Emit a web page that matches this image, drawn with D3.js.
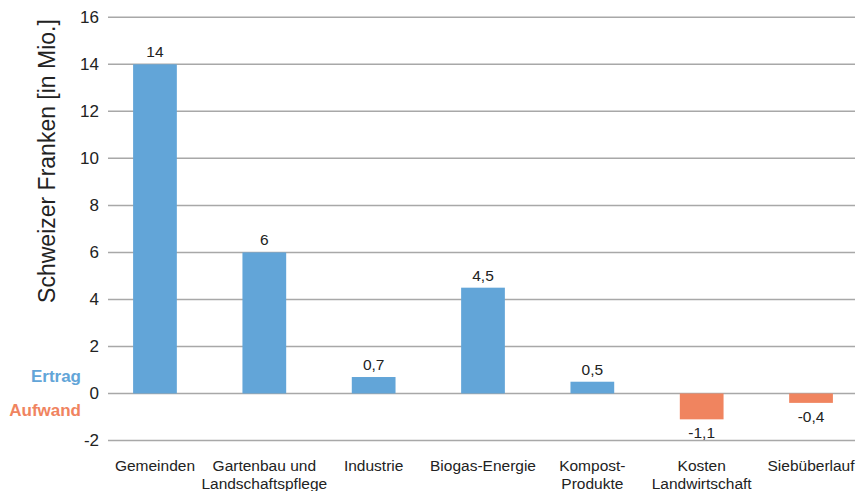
<!DOCTYPE html>
<html>
<meta charset="utf-8">
<style>
  body { margin: 0; background: #fff; }
  text { font-family: "Liberation Sans", Arial, sans-serif; fill: #222; }
  .grid line { stroke: #a8a8a8; stroke-width: 1.5; }
</style>
<body>
<script src="https://cdn.jsdelivr.net/npm/d3@7"></script>
<script>
// data
var categories = [["Gemeinden"], ["Gartenbau und", "Landschaftspflege"], ["Industrie"],
  ["Biogas-Energie"], ["Kompost-", "Produkte"], ["Kosten", "Landwirtschaft"], ["Siebüberlauf"]];
var values = [14, 6, 0.7, 4.5, 0.5, -1.1, -0.4];
var valueLabels = ["14", "6", "0,7", "4,5", "0,5", "-1,1", "-0,4"];
var yTicks = [-2, 0, 2, 4, 6, 8, 10, 12, 14, 16];

var width = 858, height = 491;

var svg = d3.select("body").append("svg")
    .attr("width", width)
    .attr("height", height);

var x = d3.scaleBand()
    .domain(d3.range(values.length))
    .range([100.3, 865.7])
    .paddingInner(0.6)
    .paddingOuter(0.3);

var y = d3.scaleLinear()
    .domain([-2, 16])
    .range([440.5, 17.3]);

// gridlines
svg.append("g").attr("class", "grid")
  .selectAll("line")
  .data(yTicks)
  .enter().append("line")
    .attr("x1", 108).attr("x2", 855)
    .attr("y1", function(d) { return y(d); })
    .attr("y2", function(d) { return y(d); });

// tick labels
svg.append("g")
  .selectAll("text")
  .data(yTicks)
  .enter().append("text")
    .attr("x", 99)
    .attr("y", function(d) { return y(d); })
    .attr("dy", "0.35em")
    .attr("text-anchor", "end")
    .style("font-size", "17px")
    .text(function(d) { return d; });

// bars
svg.append("g")
  .selectAll("rect")
  .data(values)
  .enter().append("rect")
    .attr("x", function(d, i) { return x(i); })
    .attr("width", x.bandwidth())
    .attr("y", function(d) { return y(Math.max(0, d)); })
    .attr("height", function(d) { return Math.abs(y(d) - y(0)); })
    .attr("fill", function(d) { return d >= 0 ? "#62a5d8" : "#f0845f"; });

// value labels
svg.append("g")
  .selectAll("text")
  .data(values)
  .enter().append("text")
    .attr("x", function(d, i) { return x(i) + x.bandwidth() / 2; })
    .attr("y", function(d) { return d >= 0 ? y(d) - 7 : y(d) + 19; })
    .attr("text-anchor", "middle")
    .style("font-size", "15.5px")
    .text(function(d, i) { return valueLabels[i]; });

// category labels
var cat = svg.append("g")
  .selectAll("text")
  .data(categories)
  .enter().append("text")
    .attr("text-anchor", "middle")
    .style("font-size", "15.5px")
    .attr("x", function(d, i) { return x(i) + x.bandwidth() / 2; })
    .attr("y", 471);
cat.selectAll("tspan")
  .data(function(d) { return d; })
  .enter().append("tspan")
    .attr("x", function() { return d3.select(this.parentNode).attr("x"); })
    .attr("dy", function(d, i) { return i ? 18 : 0; })
    .text(function(d) { return d; });

// y axis title
svg.append("text")
    .attr("transform", "translate(55," + 161 + ") rotate(-90)")
    .attr("text-anchor", "middle")
    .style("font-size", "23px")
    .text("Schweizer Franken [in Mio.]");

// Ertrag / Aufwand
svg.append("text")
    .attr("x", 81).attr("y", 382)
    .attr("text-anchor", "end")
    .style("font-size", "17px").style("font-weight", "bold")
    .style("fill", "#62a5d8")
    .text("Ertrag");
svg.append("text")
    .attr("x", 81).attr("y", 416)
    .attr("text-anchor", "end")
    .style("font-size", "17px").style("font-weight", "bold")
    .style("fill", "#f0845f")
    .text("Aufwand");
</script>
</body>
</html>
